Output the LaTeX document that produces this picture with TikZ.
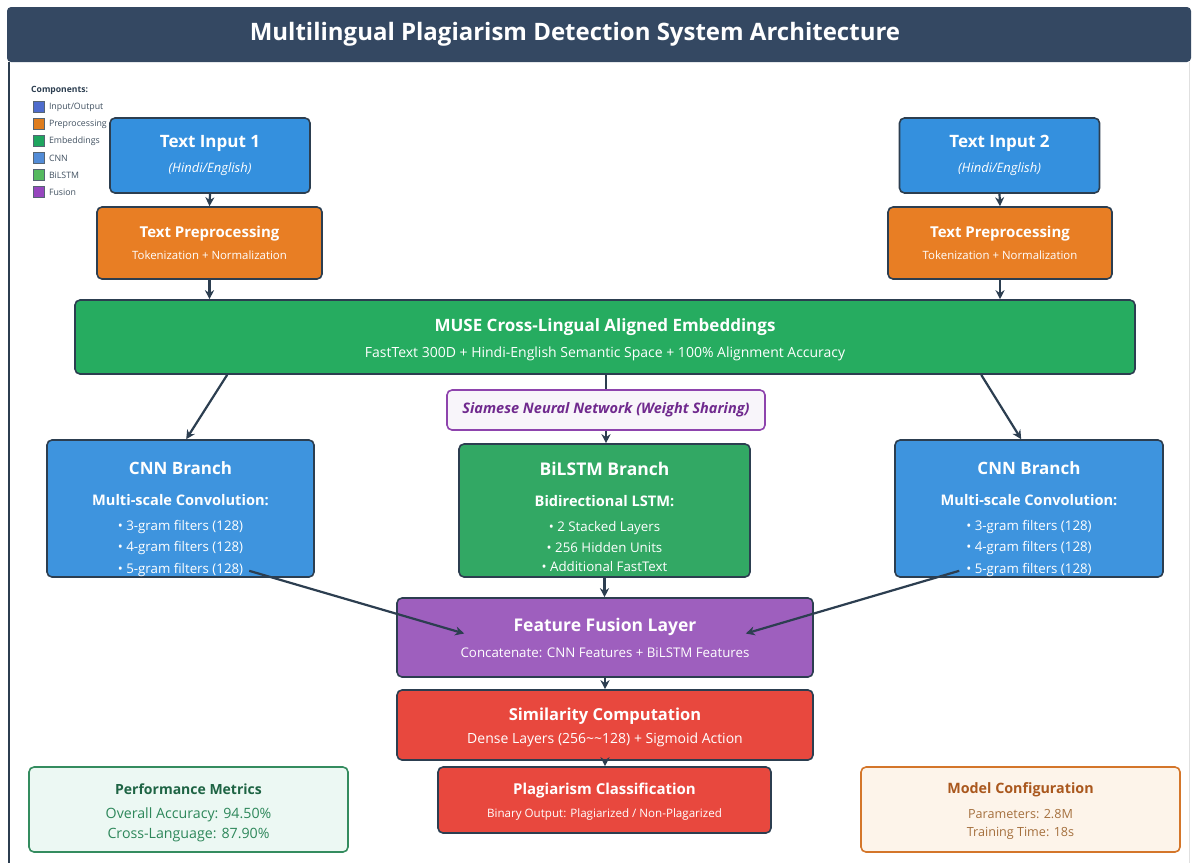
\documentclass[tikz,border=0pt]{standalone}
\usepackage{fontspec}
\setmainfont{Open Sans}
\usetikzlibrary{arrows.meta, positioning, calc}
\definecolor{navy}{RGB}{44,62,80}
\definecolor{barnavy}{RGB}{52,72,98}
\definecolor{ioblue}{RGB}{52,144,222}
\definecolor{cnnblue}{RGB}{62,148,222}
\definecolor{prorange}{RGB}{232,126,36}
\definecolor{embgreen}{RGB}{38,172,96}
\definecolor{lstmgreen}{RGB}{50,168,100}
\definecolor{fusepurple}{RGB}{158,95,190}
\definecolor{simred}{RGB}{232,72,62}
\definecolor{siamfill}{RGB}{248,245,250}
\definecolor{siamline}{RGB}{142,68,173}
\definecolor{siamtext}{RGB}{112,42,142}
\definecolor{perffill}{RGB}{236,248,243}
\definecolor{perfline}{RGB}{52,140,95}
\definecolor{perftitle}{RGB}{30,100,68}
\definecolor{perftext}{RGB}{45,135,90}
\definecolor{cfgfill}{RGB}{253,244,234}
\definecolor{cfgline}{RGB}{212,118,42}
\definecolor{cfgtitle}{RGB}{170,88,30}
\definecolor{cfgtext}{RGB}{165,112,62}
\definecolor{legio}{RGB}{78,108,205}
\definecolor{legpre}{RGB}{222,125,30}
\definecolor{legemb}{RGB}{30,165,95}
\definecolor{legcnn}{RGB}{82,140,215}
\definecolor{leglstm}{RGB}{85,185,95}
\definecolor{legfuse}{RGB}{150,70,190}
\newcommand{\hdA}{\fontsize{17}{14}\selectfont\bfseries}
\newcommand{\hdB}{\fontsize{14.6}{14}\selectfont\bfseries}
\newcommand{\hdC}{\fontsize{15}{14}\selectfont\bfseries}
\newcommand{\txA}{\fontsize{13.3}{14}\selectfont}
\newcommand{\txB}{\fontsize{13}{14}\selectfont}
\newcommand{\txC}{\fontsize{11.4}{14}\selectfont}

\begin{document}
\begin{tikzpicture}[x=1pt, y=-1pt,
    block/.style={draw=navy, line width=1.6pt, rounded corners=5pt, text=white, align=center, inner sep=0pt},
    infobox/.style={line width=1.6pt, rounded corners=5pt, align=center, inner sep=0pt, minimum width=319pt, minimum height=85pt},
    arrow/.style={-{Stealth[length=9pt, width=9pt]}, line width=2.2pt, draw=navy},
    link/.style={line width=2.2pt, draw=navy},
    legsq/.style={draw=navy!80, line width=0.6pt, minimum size=11pt, inner sep=0pt},
    leglabel/.style={right=4pt, font=\fontsize{8.8}{9}\selectfont, text=navy!90, inner sep=0pt}
]
\useasboundingbox (0,0) rectangle (1198,863);
% frame and title bar
\fill[white] (0,0) rectangle (1198,863);
\draw[navy, line width=1.5pt] (9,62) -- (9,863);
\draw[black!12, line width=1pt] (1189,62) -- (1189,863);
\fill[barnavy, rounded corners=4pt] (7,7) rectangle (1191,62);
\node[font=\fontsize{24}{26}\selectfont\bfseries, text=white] (title) at (575,34) {Multilingual Plagiarism Detection System Architecture};

% legend
\node[anchor=west, font=\fontsize{8.6}{10}\selectfont\bfseries, text=navy, inner sep=0pt] (legtitle) at (31,90) {Components:};
\foreach \i/\col/\name in {1/legio/Input\slash Output, 2/legpre/Preprocessing, 3/legemb/Embeddings, 4/legcnn/CNN, 5/leglstm/BiLSTM, 6/legfuse/Fusion} {
    \pgfmathsetmacro{\ypos}{90 + \i*17}
    \node[legsq, fill=\col] (leg\i) at (39,\ypos) {};
    \node[leglabel] at (leg\i.east) {\name};
}

% inputs and preprocessing
\node[block, fill=ioblue, minimum width=200pt, minimum height=75pt] (in1) at (210,155.5)
    {\hdA Text Input 1\\[10pt]\txB\itshape (Hindi/English)};
\node[block, fill=ioblue, minimum width=200pt, minimum height=75pt] (in2) at (999.5,155.5)
    {\hdA Text Input 2\\[10pt]\txB\itshape (Hindi/English)};
\node[block, fill=prorange, minimum width=225pt, minimum height=72pt] (pre1) at (209.5,243)
    {\hdC Text Preprocessing\\[9pt]\txC Tokenization + Normalization};
\node[block, fill=prorange, minimum width=224pt, minimum height=72pt] (pre2) at (1000,243)
    {\hdC Text Preprocessing\\[9pt]\txC Tokenization + Normalization};

% embeddings
\node[block, fill=embgreen, minimum width=1060pt, minimum height=74pt] (muse) at (605,337)
    {\rule{0pt}{18pt}\fontsize{17}{14}\selectfont\bfseries MUSE Cross-Lingual Aligned Embeddings\\[10pt]\fontsize{14}{14}\selectfont FastText 300D + Hindi-English Semantic Space + 100\% Alignment Accuracy};
\node[block, draw=siamline, fill=siamfill, text=siamtext, minimum width=318pt, minimum height=40pt] (siam) at (606,410)
    {\fontsize{14.5}{14}\selectfont\bfseries\itshape Siamese Neural Network (Weight Sharing)};

% branches
\node[block, fill=cnnblue, minimum width=267pt, minimum height=137pt] (cnn1) at (180.5,508.5)
    {\rule{0pt}{34pt}\hdA CNN Branch\\[19pt]\hdB Multi-scale Convolution:\\[13pt]\txA\textbullet{} 3-gram filters (128)\\[7pt]\txA\textbullet{} 4-gram filters (128)\\[7pt]\txA\textbullet{} 5-gram filters (128)};
\node[block, fill=lstmgreen, minimum width=291pt, minimum height=133pt] (lstm) at (604.5,510.5)
    {\rule{0pt}{26pt}\fontsize{17.5}{14}\selectfont\bfseries BiLSTM Branch\\[19pt]\hdB Bidirectional LSTM:\\[13pt]\txA\textbullet{} 2 Stacked Layers\\[7pt]\txA\textbullet{} 256 Hidden Units\\[7pt]\txA\textbullet{} Additional FastText};
\node[block, fill=cnnblue, minimum width=268pt, minimum height=137pt] (cnn2) at (1029,508.5)
    {\rule{0pt}{34pt}\hdA CNN Branch\\[19pt]\hdB Multi-scale Convolution:\\[13pt]\txA\textbullet{} 3-gram filters (128)\\[7pt]\txA\textbullet{} 4-gram filters (128)\\[7pt]\txA\textbullet{} 5-gram filters (128)};

% fusion and output
\node[block, fill=fusepurple, minimum width=416pt, minimum height=79pt] (fuse) at (605,637.5)
    {\fontsize{17.5}{14}\selectfont\bfseries Feature Fusion Layer\\[11pt]\txA Concatenate: CNN Features + BiLSTM Features};
\node[block, fill=simred, minimum width=416pt, minimum height=70pt] (sim) at (605,725)
    {\rule{0pt}{17pt}\fontsize{16.5}{14}\selectfont\bfseries Similarity Computation\\[8pt]\fontsize{14}{14}\selectfont Dense Layers (256\textasciitilde\textasciitilde128) + Sigmoid Action};
\node[block, fill=simred, minimum width=333pt, minimum height=66pt] (cls) at (604.5,800)
    {\rule{0pt}{15pt}\fontsize{15}{14}\selectfont\bfseries Plagiarism Classification\\[10pt]\fontsize{11.6}{14}\selectfont Binary Output: Plagiarized / Non-Plagarized};

% metric boxes
\node[infobox, draw=perfline, fill=perffill] (perf) at (188.5,809.5)
    {\rule{0pt}{18pt}\color{perftitle}\fontsize{14}{14}\selectfont\bfseries Performance Metrics\\[12pt]\color{perftext}\fontsize{14.2}{14}\selectfont Overall Accuracy: 94.50\%\\[5pt]\color{perftext}\fontsize{14.2}{14}\selectfont Cross-Language: 87.90\%};
\node[infobox, draw=cfgline, fill=cfgfill] (cfg) at (1020.5,809.5)
    {\rule{0pt}{14pt}\color{cfgtitle}\fontsize{14.3}{14}\selectfont\bfseries Model Configuration\\[12pt]\color{cfgtext}\fontsize{12.6}{14}\selectfont Parameters: 2.8M\\[6pt]\color{cfgtext}\fontsize{12.6}{14}\selectfont Training Time: 18s};

% connectors
\draw[arrow] (in1.south) -- (pre1.south |- pre1.north);
\draw[arrow] (in2.south) -- (pre2.south |- pre2.north);
\draw[arrow] (pre1.south) -- (pre1.south |- muse.north);
\draw[arrow] (pre2.south) -- (pre2.south |- muse.north);
\coordinate (museL) at ($(muse.south west)+(153,0)$);
\coordinate (museR) at ($(muse.south west)+(907,0)$);
\coordinate (cnn1top) at ($(cnn1.north west)+(140,0)$);
\coordinate (cnn2top) at ($(cnn2.north west)+(127,0)$);
\draw[arrow] (museL) -- (cnn1top);
\draw[arrow] (museR) -- (cnn2top);
\draw[link] (muse.south -| siam.north) -- (siam.north);
\draw[arrow] (siam.south) -- (siam.south |- lstm.north);
\coordinate (cnn1out) at ($(cnn1.south west)+(203,-7)$);
\coordinate (cnn2out) at ($(cnn2.south west)+(65,-7)$);
\coordinate (fuseL) at ($(fuse.west)+(68,-4)$);
\coordinate (fuseR) at ($(fuse.east)+(-68,-4)$);
\draw[arrow] (cnn1out) -- (fuseL);
\draw[arrow] (cnn2out) -- (fuseR);
\draw[arrow] (lstm.south) -- (lstm.south |- fuse.north);
\draw[arrow] (fuse.south) -- (fuse.south |- sim.north);
\draw[arrow] (sim.south) -- (sim.south |- cls.north);
\end{tikzpicture}
\end{document}
